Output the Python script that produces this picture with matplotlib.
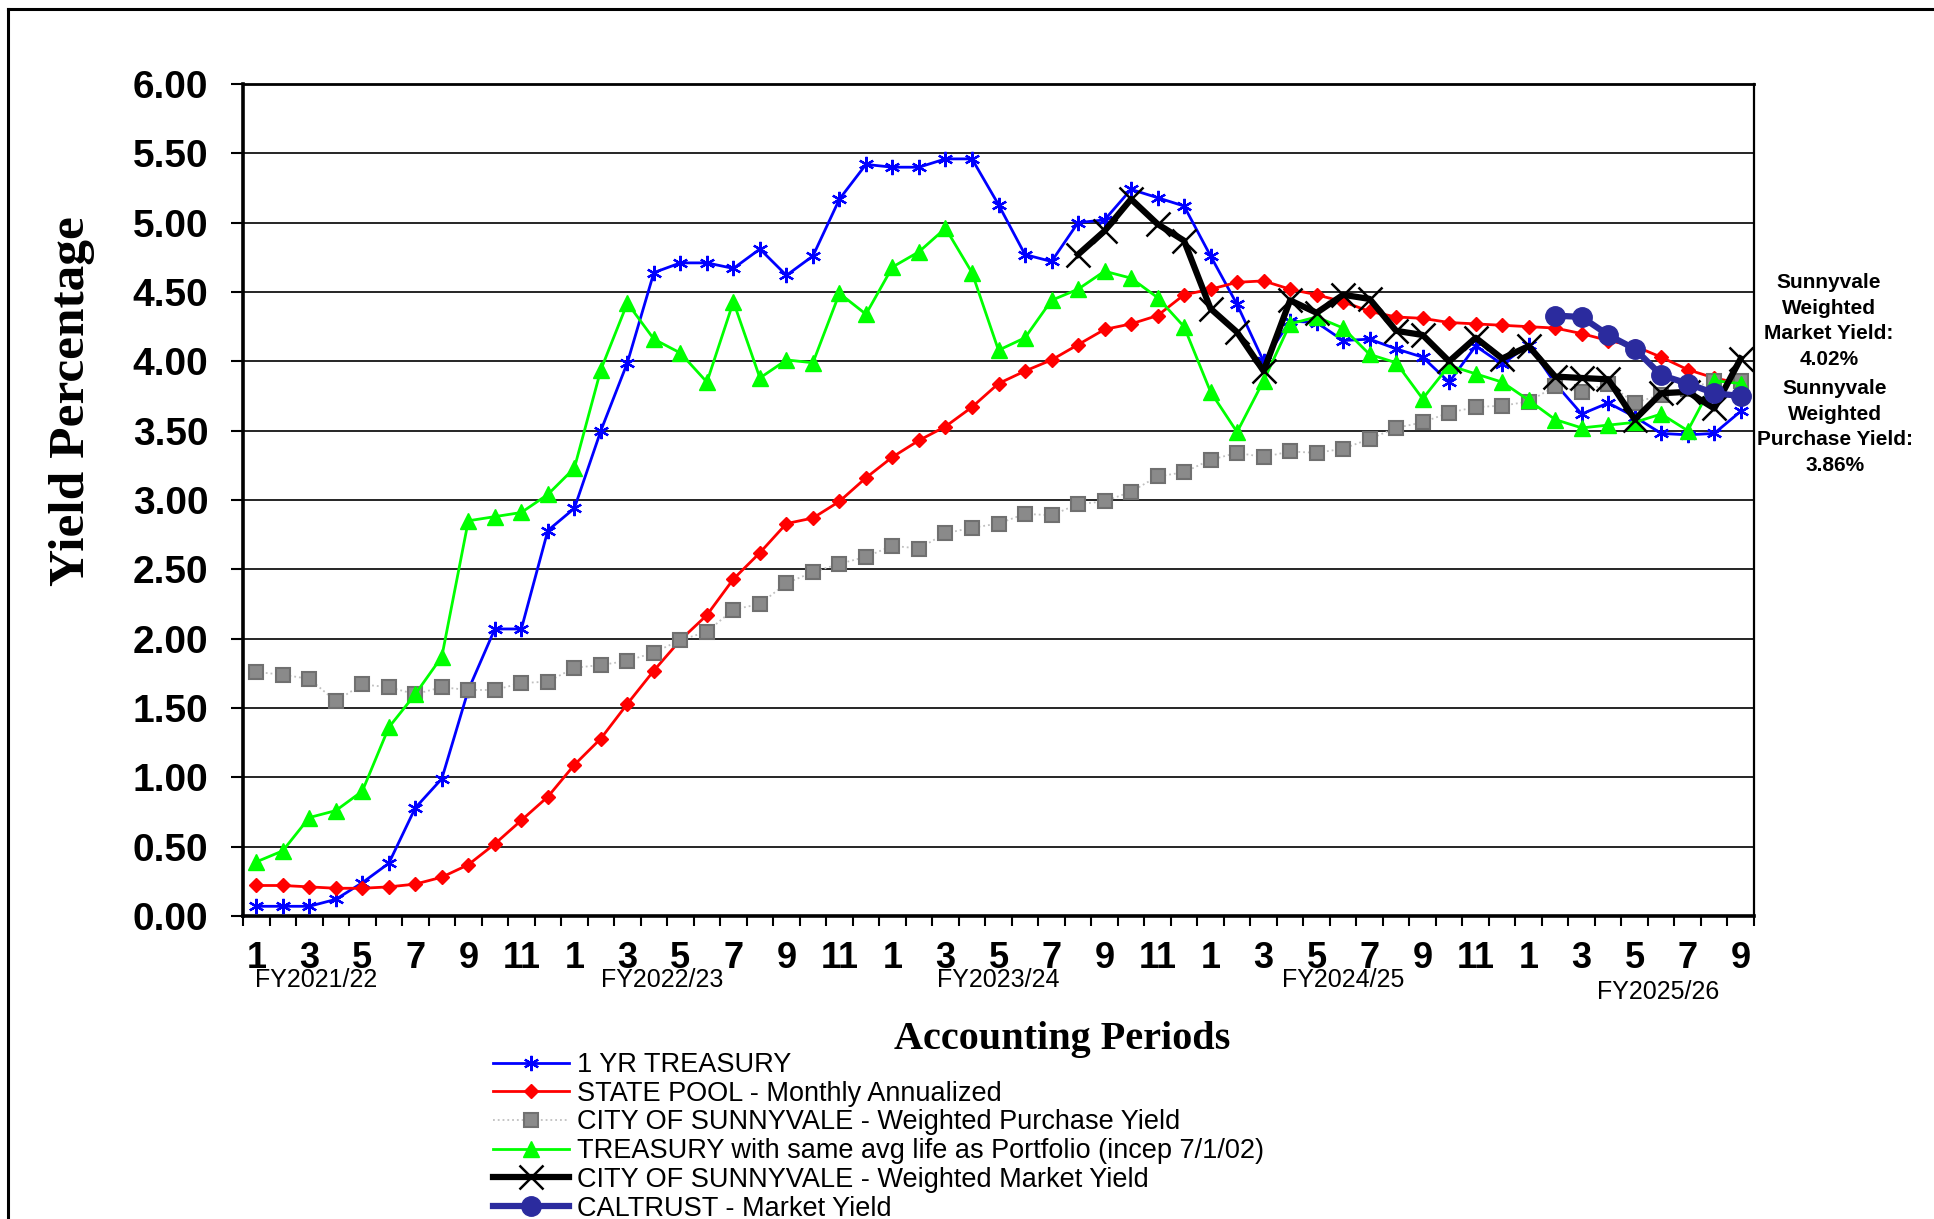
import numpy as np
import matplotlib.pyplot as plt
from matplotlib.lines import Line2D

plt.rcParams["font.family"] = ["Liberation Sans", "DejaVu Sans"]

# fiscal years and number of accounting periods shown in each
fy_names = ["FY2021/22", "FY2022/23", "FY2023/24", "FY2024/25", "FY2025/26"]
months_per_fy = [12, 12, 12, 12, 9]

treasury_1yr = [
    0.07, 0.07, 0.07, 0.12, 0.24, 0.38, 0.78, 0.99, 1.63, 2.07, 2.07, 2.78,
    2.94, 3.50, 3.99, 4.64, 4.71, 4.71, 4.67, 4.81, 4.62, 4.76, 5.17, 5.42,
    5.40, 5.40, 5.46, 5.46, 5.13, 4.77, 4.72, 5.00, 5.02, 5.24, 5.18, 5.12,
    4.76, 4.41, 4.00, 4.29, 4.28, 4.15, 4.16, 4.09, 4.03, 3.85, 4.11, 3.98,
    4.12, 3.84, 3.62, 3.70, 3.60, 3.48, 3.47, 3.48, 3.64,
]
state_pool = [
    0.22, 0.22, 0.21, 0.20, 0.20, 0.21, 0.23, 0.28, 0.37, 0.52, 0.69, 0.86,
    1.09, 1.28, 1.53, 1.77, 1.99, 2.17, 2.43, 2.62, 2.83, 2.87, 2.99, 3.16,
    3.31, 3.43, 3.53, 3.67, 3.84, 3.93, 4.01, 4.12, 4.23, 4.27, 4.33, 4.48,
    4.52, 4.57, 4.58, 4.52, 4.48, 4.43, 4.36, 4.32, 4.31, 4.28, 4.27, 4.26,
    4.25, 4.24, 4.20, 4.15, 4.11, 4.03, 3.94, 3.88, 3.84,
]
purchase_yield = [
    1.76, 1.74, 1.71, 1.55, 1.67, 1.65, 1.60, 1.65, 1.63, 1.63, 1.68, 1.69,
    1.79, 1.81, 1.84, 1.90, 1.99, 2.05, 2.21, 2.25, 2.40, 2.48, 2.54, 2.59,
    2.67, 2.65, 2.76, 2.80, 2.83, 2.90, 2.89, 2.97, 2.99, 3.06, 3.17, 3.20,
    3.29, 3.34, 3.31, 3.35, 3.34, 3.37, 3.44, 3.52, 3.56, 3.63, 3.67, 3.68,
    3.71, 3.82, 3.78, 3.84, 3.70, 3.76, 3.80, 3.86, 3.86,
]
treasury_avg_life = [
    0.39, 0.47, 0.71, 0.76, 0.90, 1.36, 1.60, 1.87, 2.85, 2.88, 2.91, 3.04,
    3.23, 3.94, 4.42, 4.16, 4.06, 3.85, 4.43, 3.88, 4.01, 3.99, 4.49, 4.34,
    4.68, 4.79, 4.96, 4.64, 4.08, 4.17, 4.44, 4.52, 4.65, 4.60, 4.46, 4.25,
    3.78, 3.49, 3.86, 4.27, 4.32, 4.24, 4.05, 3.99, 3.73, 3.97, 3.91, 3.85,
    3.72, 3.58, 3.52, 3.54, 3.56, 3.62, 3.50, 3.86, 3.84,
]
market_yield = [np.nan] * 31 + [
    4.77, 4.94, 5.17, 4.99, 4.87,
    4.38, 4.21, 3.93, 4.44, 4.35, 4.48, 4.45, 4.22, 4.19, 4.00, 4.17, 4.02,
    4.11, 3.89, 3.88, 3.87, 3.58, 3.77, 3.78, 3.66, 4.02,
]
caltrust = [np.nan] * 49 + [4.33, 4.32, 4.19, 4.09, 3.90, 3.84, 3.77, 3.75]

month_no = [m for n in months_per_fy for m in range(1, n + 1)]
periods = np.arange(1, len(month_no) + 1)

fig = plt.figure(figsize=(19.34, 12.19), dpi=100)
ax = fig.add_axes([243 / 1934, 1 - 916 / 1219, (1754 - 243) / 1934, (916 - 84) / 1219])

ax.plot(periods, treasury_1yr, color="#0000FF", lw=2.0, marker=(6, 2, 0),
        ms=11, mew=1.6, label="1 YR TREASURY", zorder=3)
ax.plot(periods, state_pool, color="#FF0000", lw=2.0, marker="D",
        ms=7, label="STATE POOL - Monthly Annualized", zorder=3)
ax.plot(periods, purchase_yield, color="#C0C0C0", lw=1.3, ls=":", marker="s",
        ms=10, mfc="#8A8A8A", mec="#707070", mew=1.5,
        label="CITY OF SUNNYVALE - Weighted Purchase Yield", zorder=3)
ax.plot(periods, treasury_avg_life, color="#00FF00", lw=2.0, marker="^",
        ms=11, label="TREASURY with same avg life as Portfolio (incep 7/1/02)", zorder=3)
ax.plot(periods, market_yield, color="black", lw=4.5, marker="x",
        ms=17, mew=1.8, label="CITY OF SUNNYVALE - Weighted Market Yield", zorder=4)
ax.plot(periods, caltrust, color="#2B2B9E", lw=4.5, marker="o",
        ms=14, label="CALTRUST - Market Yield", zorder=5)

ax.set_xlim(0.5, len(periods) + 0.5)
ax.set_ylim(0, 6)
yt = np.arange(0, 6.01, 0.5)
ax.set_yticks(yt)
ax.set_yticklabels([f"{v:.2f}" for v in yt], fontsize=28, fontweight="bold")
ax.tick_params(axis="y", direction="out", length=9, width=1.5, pad=16)

odd = [p for p, m in zip(periods, month_no) if m % 2 == 1]
ax.set_xticks(odd)
ax.set_xticklabels([str(m) for m in month_no if m % 2 == 1], fontsize=26, fontweight="bold")
ax.set_xticks(np.arange(0.5, len(periods) + 1, 1), minor=True)
ax.tick_params(axis="x", which="major", length=0, pad=18)
ax.tick_params(axis="x", which="minor", direction="out", length=7, width=1.5)

ax.grid(axis="y", color="black", lw=1.2, zorder=0)
ax.set_axisbelow(True)
for side, w in [("left", 2.6), ("bottom", 2.6), ("top", 2.0), ("right", 1.6)]:
    ax.spines[side].set_linewidth(w)

# fiscal year captions under the period numbers
fy_label_x = [3.25, 16.3, 29.0, 42.0, 53.9]
fy_label_y = [-0.077, -0.077, -0.077, -0.077, -0.091]
for name, x, y in zip(fy_names, fy_label_x, fy_label_y):
    ax.text(x, y, name, transform=ax.get_xaxis_transform(), ha="center",
            va="center", fontsize=18)

fig.text(72 / 1934, 1 - 401 / 1219, "Yield Percentage", rotation=90, ha="center",
         va="center", fontsize=37, fontweight="bold", family="Liberation Serif")
fig.text(1062 / 1934, 1 - 1039 / 1219, "Accounting Periods", ha="center",
         va="center", fontsize=29, fontweight="bold", family="Liberation Serif")

fig.text(1829 / 1934, 1 - 321 / 1219,
         f"Sunnyvale\nWeighted\nMarket Yield:\n{market_yield[-1]:.2f}%",
         ha="center", va="center", fontsize=15, fontweight="bold", linespacing=1.45)
fig.text(1835 / 1934, 1 - 427 / 1219,
         f"Sunnyvale\nWeighted\nPurchase Yield:\n{purchase_yield[-1]:.2f}%",
         ha="center", va="center", fontsize=15, fontweight="bold", linespacing=1.45)

fig.legend(loc="upper left", bbox_to_anchor=(493 / 1934, 1 - 1052 / 1219),
           frameon=False, fontsize=19.5, handlelength=2.8, handletextpad=0.3,
           labelspacing=0.1, borderpad=0, borderaxespad=0)

# outer frame (cut off at right and bottom)
fig.add_artist(Line2D([8 / 1934, 8 / 1934], [0, 1 - 9 / 1219], color="black",
                      lw=2.2, transform=fig.transFigure))
fig.add_artist(Line2D([8 / 1934, 1], [1 - 9 / 1219, 1 - 9 / 1219], color="black",
                      lw=2.2, transform=fig.transFigure))

fig.savefig("out.png", dpi=100)
